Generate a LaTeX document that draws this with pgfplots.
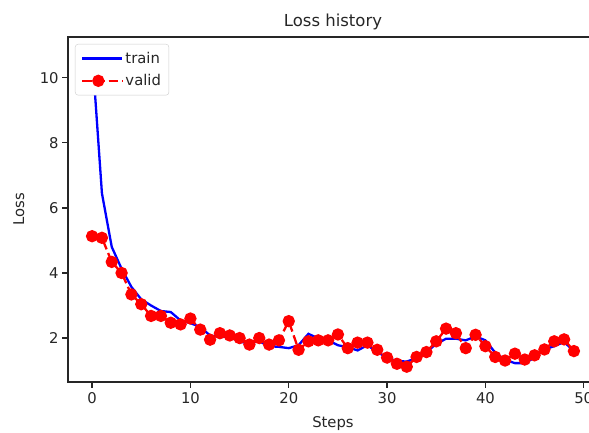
\documentclass[border=0pt]{standalone}
\usepackage{pgfplots}
\pgfplotsset{compat=1.18}
\usepackage{fontspec}
\setmainfont{DejaVu Sans}

\pgfplotstableread{
step train valid
0  10.79 5.13
1  6.45  5.08
2  4.80  4.34
3  4.13  4.00
4  3.57  3.34
5  3.19  3.04
6  3.00  2.68
7  2.83  2.68
8  2.80  2.47
9  2.54  2.42
10 2.46  2.60
11 2.34  2.26
12 2.08  1.95
13 2.03  2.15
14 2.05  2.08
15 1.88  2.00
16 1.85  1.80
17 1.90  2.00
18 1.75  1.80
19 1.73  1.93
20 1.69  2.52
21 1.78  1.64
22 2.13  1.90
23 1.99  1.93
24 1.93  1.93
25 1.78  2.11
26 1.72  1.69
27 1.62  1.86
28 1.78  1.86
29 1.57  1.64
30 1.40  1.40
31 1.29  1.21
32 1.28  1.12
33 1.38  1.42
34 1.57  1.57
35 1.82  1.90
36 1.98  2.29
37 1.98  2.15
38 1.93  1.69
39 2.05  2.10
40 1.93  1.75
41 1.55  1.42
42 1.33  1.31
43 1.23  1.52
44 1.23  1.34
45 1.40  1.47
46 1.65  1.65
47 1.75  1.90
48 1.88  1.96
49 1.60  1.60
}\losstable

\begin{document}
\begin{tikzpicture}
\begin{axis}[
    scale only axis,
    width=530pt, height=345pt,
    xmin=-2.45, xmax=51.45,
    ymin=0.65, ymax=11.25,
    xtick={0,10,20,30,40,50},
    ytick={2,4,6,8,10},
    tick align=outside,
    major tick length=5.8pt,
    tick style={black!85, line width=1.3pt},
    axis line style={black!85, line width=1.3pt},
    xtick pos=bottom, ytick pos=left,
    ticklabel style={font=\fontsize{14.8}{17}\selectfont, text=black!85},
    xticklabel style={anchor=base, yshift=-16pt},
    /pgf/number format/assume math mode=true,
    label style={font=\fontsize{14.8}{17}\selectfont, text=black!85},
    xlabel={Steps},
    ylabel={Loss},
    xlabel style={at={(axis description cs:0.5,0)}, anchor=base, yshift=-45.5pt},
    ylabel style={at={(axis description cs:-0.083,0.5)}, anchor=base, rotate=0},
    title={Loss history},
    title style={font=\fontsize{16.5}{19}\selectfont, text=black!85, at={(axis description cs:0.5,1)}, anchor=base, yshift=4pt},
    legend style={at={(0,1)}, anchor=north west, xshift=7pt, yshift=-7pt,
        draw=black!20, rounded corners=3pt, fill=white,
        font=\fontsize{14.8}{17}\selectfont, text=black!85, row sep=5.5pt,
        inner xsep=6pt, inner ysep=6pt},
    legend cell align=left,
    legend image code/.code={\draw[mark repeat=2, mark phase=2] plot coordinates {(0pt,0pt) (16pt,0pt) (32pt,0pt)};
        \path (0pt,0pt) -- (40pt,0pt);},
]
\addplot[blue, line width=2.3pt, no markers] table[x=step, y=train] {\losstable};
\addlegendentry{train}
\addplot[red, line width=2.3pt, dash pattern=on 9.2pt off 4pt, mark=*, mark size=5pt,
    mark options={solid, fill=red, draw=red}] table[x=step, y=valid] {\losstable};
\addlegendentry{valid}
\end{axis}
\pgfresetboundingbox
\path (-68pt,-50pt) rectangle (521pt,382pt);
\end{tikzpicture}
\end{document}
